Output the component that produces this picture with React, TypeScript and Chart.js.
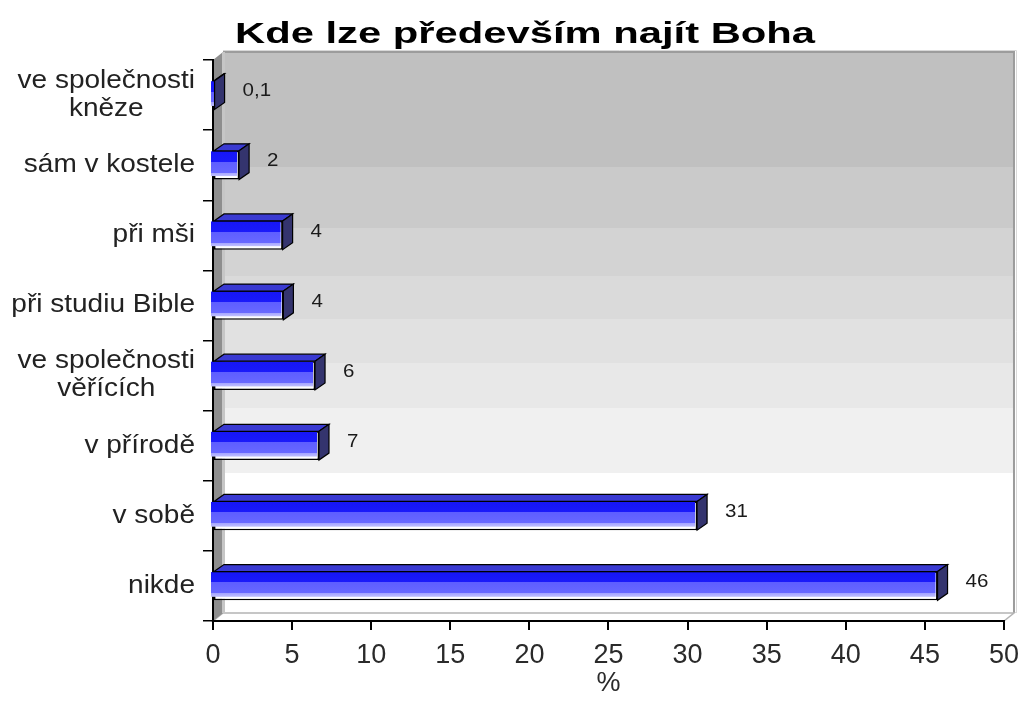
import React, { useEffect, useRef } from "react";
import { Chart, registerables } from "chart.js";

Chart.register(...registerables);

const categories: (string | string[])[] = [
  ["ve společnosti", "kněze"],
  "sám v kostele",
  "při mši",
  "při studiu Bible",
  ["ve společnosti", "věřících"],
  "v přírodě",
  "v sobě",
  "nikde",
];
const values: number[] = [0.1, 1.65, 4.4, 4.45, 6.45, 6.7, 30.6, 45.8];
const valueLabels: string[] = ["0,1", "2", "4", "4", "6", "7", "31", "46"];
const xTicks = { min: 0, max: 50, step: 5 };
const titleText = "Kde lze především najít Boha";
const axisTitle = "%";

const FONT = "'Liberation Sans', Arial, sans-serif";
const BAR_DX = 10;
const BAR_DY = 7;
const WALL_DX = 10;
const WALL_DY = 8;
const BAND_STOPS = [0, 0.205, 0.314, 0.399, 0.476, 0.554, 0.635, 0.75, 1];
const BAND_COLORS = ["#c0c0c0", "#cacaca", "#d3d3d3", "#dadada", "#e1e1e1", "#e8e8e8", "#f0f0f0", "#ffffff"];

function drawStretched(ctx: CanvasRenderingContext2D, text: string, x: number, y: number, sx: number) {
  ctx.save();
  ctx.translate(x, y);
  ctx.scale(sx, 1);
  ctx.fillText(text, 0, 0);
  ctx.restore();
}

const backgroundPlugin = {
  id: "bg3d",
  beforeDraw(chart: any) {
    const { ctx, chartArea: a } = chart;
    ctx.save();
    ctx.fillStyle = "#ffffff";
    ctx.fillRect(0, 0, chart.width, chart.height);
    const bx0 = a.left + WALL_DX;
    const bx1 = a.right + WALL_DX;
    const by0 = a.top - WALL_DY;
    const by1 = a.bottom - WALL_DY;
    const h = by1 - by0;
    for (let i = 0; i < BAND_COLORS.length; i++) {
      ctx.fillStyle = BAND_COLORS[i];
      const y0 = Math.round(by0 + h * BAND_STOPS[i]);
      const y1 = Math.round(by0 + h * BAND_STOPS[i + 1]);
      ctx.fillRect(bx0, y0, bx1 - bx0, y1 - y0);
    }
    ctx.strokeStyle = "#d8d8d8";
    ctx.lineWidth = 1;
    ctx.beginPath();
    ctx.moveTo(bx0, by0 - 1.5);
    ctx.lineTo(bx1 + 2.5, by0 - 1.5);
    ctx.lineTo(bx1 + 2.5, by1);
    ctx.stroke();
    ctx.strokeStyle = "#9c9c9c";
    ctx.lineWidth = 2;
    ctx.beginPath();
    ctx.moveTo(bx0, by0);
    ctx.lineTo(bx1, by0);
    ctx.lineTo(bx1, by1);
    ctx.stroke();
    ctx.beginPath();
    ctx.moveTo(a.left, a.bottom);
    ctx.lineTo(bx0, by1);
    ctx.lineTo(bx1, by1);
    ctx.lineTo(a.right, a.bottom);
    ctx.closePath();
    ctx.fillStyle = "#ffffff";
    ctx.fill();
    ctx.strokeStyle = "#b4b4b4";
    ctx.lineWidth = 1.5;
    ctx.stroke();
    ctx.beginPath();
    ctx.moveTo(a.left, a.top);
    ctx.lineTo(bx0, by0);
    ctx.lineTo(bx0, by1);
    ctx.lineTo(a.left, a.bottom);
    ctx.closePath();
    ctx.fillStyle = "#8e8e8e";
    ctx.fill();
    ctx.fillStyle = "#c6c6c6";
    ctx.fillRect(bx0 - 1, by0, 3, h);
    ctx.restore();
  },
};

const barsPlugin = {
  id: "bars3d",
  afterDatasetsDraw(chart: any) {
    const { ctx } = chart;
    const meta = chart.getDatasetMeta(0);
    ctx.save();
    meta.data.forEach((bar: any, i: number) => {
      const { x, y, base, height } = bar.getProps(["x", "y", "base", "height"], true);
      const top = y - height / 2;
      const bottom = y + height / 2;
      const bl = base - 3;
      const br = Math.max(x - 2, bl + 3);
      const bt = top + 0.5;
      const bb = bottom - 3.5;
      const g = ctx.createLinearGradient(0, bt, 0, bb);
      g.addColorStop(0, "#1616f6");
      g.addColorStop(0.42, "#1a1afa");
      g.addColorStop(0.42, "#5e5eff");
      g.addColorStop(0.86, "#6868ff");
      g.addColorStop(0.86, "#a4a4ff");
      g.addColorStop(1, "#c0c0ff");
      ctx.fillStyle = g;
      ctx.fillRect(bl, bt, br - bl, bb - bt);

      ctx.lineWidth = 1.2;
      ctx.strokeStyle = "#000000";
      ctx.lineJoin = "miter";
      ctx.beginPath();
      ctx.moveTo(base, top);
      ctx.lineTo(base + BAR_DX, top - BAR_DY);
      ctx.lineTo(x + BAR_DX, top - BAR_DY);
      ctx.lineTo(x, top);
      ctx.closePath();
      ctx.fillStyle = "#3a3ad2";
      ctx.fill();
      ctx.stroke();
      ctx.beginPath();
      ctx.moveTo(x, top);
      ctx.lineTo(x + BAR_DX, top - BAR_DY);
      ctx.lineTo(x + BAR_DX, bottom - BAR_DY);
      ctx.lineTo(x, bottom);
      ctx.closePath();
      ctx.fillStyle = "#34346e";
      ctx.fill();
      ctx.stroke();

      ctx.fillStyle = "#1a1a1a";
      ctx.font = `19px ${FONT}`;
      ctx.textAlign = "left";
      ctx.textBaseline = "middle";
      drawStretched(ctx, valueLabels[i], x + 28, y - 4, 1.08);
    });
    ctx.restore();
  },
  afterDraw(chart: any) {
    const { ctx } = chart;
    const yScale = chart.scales.y;
    ctx.save();
    ctx.fillStyle = "#222222";
    ctx.font = `25px ${FONT}`;
    ctx.textAlign = "center";
    ctx.textBaseline = "middle";
    const sx = 1.12;
    const right = 195;
    const lh = 28;
    categories.forEach((lab, i) => {
      const lines = Array.isArray(lab) ? lab : [lab];
      const py = yScale.getPixelForTick(i);
      const maxW = Math.max(...lines.map((l) => ctx.measureText(l).width)) * sx;
      const cx = right - maxW / 2;
      lines.forEach((l, j) => {
        drawStretched(ctx, l, cx, py + (j - (lines.length - 1) / 2) * lh, sx);
      });
    });
    ctx.fillStyle = "#000000";
    ctx.font = `bold 30px ${FONT}`;
    ctx.textAlign = "left";
    ctx.textBaseline = "alphabetic";
    const targetW = 580;
    const w = ctx.measureText(titleText).width;
    drawStretched(ctx, titleText, 235, 43, targetW / w);
    ctx.restore();
  },
};

export default function App() {
  const ref = useRef<HTMLCanvasElement | null>(null);
  useEffect(() => {
    if (!ref.current) return;
    const chart = new Chart(ref.current, {
      type: "bar",
      data: {
        labels: categories.map((c) => (Array.isArray(c) ? c.join(" ") : c)),
        datasets: [
          {
            data: values,
            backgroundColor: "#ffffff",
            borderColor: "#000000",
            borderWidth: 1.5,
            borderSkipped: false,
            barPercentage: 0.41,
            categoryPercentage: 1,
          },
        ],
      },
      options: {
        indexAxis: "y",
        responsive: false,
        animation: false,
        devicePixelRatio: 1,
        layout: { padding: { left: 0, top: 60, right: 17, bottom: 0 } },
        plugins: {
          legend: { display: false },
          title: { display: false },
          tooltip: { enabled: false },
        },
        scales: {
          x: {
            type: "linear",
            min: xTicks.min,
            max: xTicks.max,
            afterFit: (s: any) => {
              s.height = 101;
            },
            ticks: {
              stepSize: xTicks.step,
              color: "#2a2a2a",
              font: { family: FONT, size: 27, lineHeight: 1.75 },
              padding: 2,
              maxRotation: 0,
            },
            grid: {
              drawOnChartArea: false,
              drawTicks: true,
              tickLength: 9,
              color: "#000000",
              lineWidth: 2,
            },
            border: { display: true, color: "#000000", width: 2 },
            title: {
              display: true,
              text: axisTitle,
              color: "#2a2a2a",
              font: { family: FONT, size: 27 },
              padding: { top: 0, bottom: 22 },
            },
          },
          y: {
            type: "category",
            afterFit: (s: any) => {
              s.width = 213;
            },
            ticks: { display: false },
            grid: {
              offset: true,
              drawOnChartArea: false,
              drawTicks: true,
              tickLength: 10,
              color: "#000000",
              lineWidth: 1.5,
            },
            border: { display: true, color: "#000000", width: 2 },
          },
        },
      },
      plugins: [backgroundPlugin, barsPlugin],
    });
    return () => chart.destroy();
  }, []);
  return (
    <div style={{ position: "absolute", left: 0, top: 0, width: 1021, height: 722 }}>
      <canvas ref={ref} width={1021} height={722} />
    </div>
  );
}
